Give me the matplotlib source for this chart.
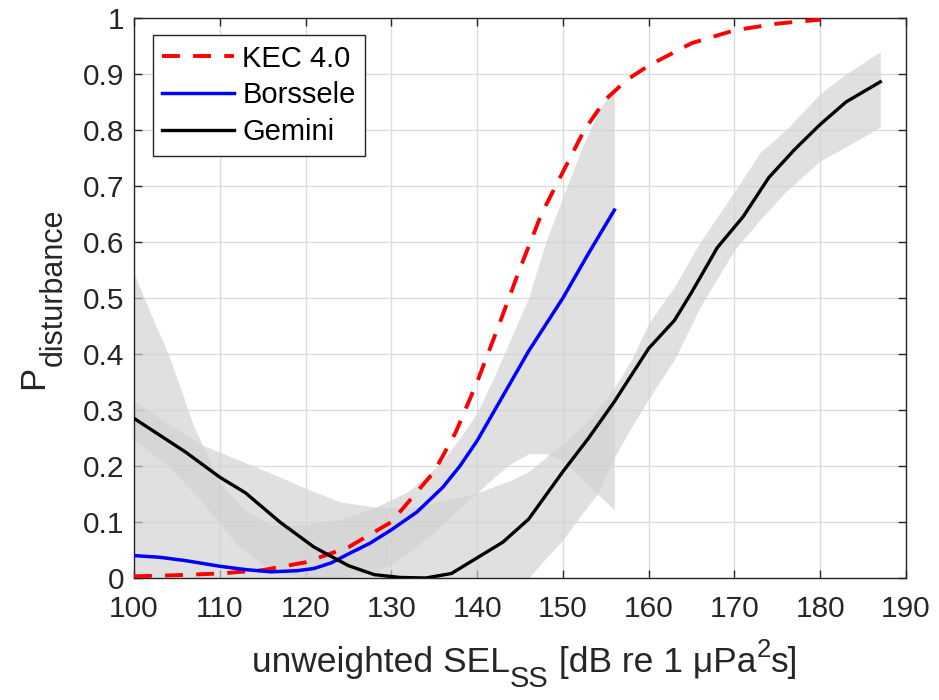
import matplotlib
matplotlib.use("Agg")
import matplotlib.pyplot as plt
from matplotlib.transforms import IdentityTransform

plt.rcParams["font.family"] = ["Liberation Sans", "DejaVu Sans"]

# KEC 4.0 dose-response curve
kec_x = [100, 105, 110, 115, 120, 125, 130, 135, 137.5, 140, 142.5, 145, 147.5,
         150, 152.5, 155, 157.5, 160, 165, 170, 175, 180]
kec_y = [0.003, 0.005, 0.008, 0.014, 0.028, 0.055, 0.10, 0.19, 0.26, 0.35, 0.45,
         0.553, 0.65, 0.725, 0.80, 0.855, 0.89, 0.915, 0.955, 0.978, 0.99, 0.997]

# Borssele curve and its confidence band
bor_x = [100, 103, 106, 110, 113, 116, 119, 121, 123, 125, 127.5, 130, 133, 136,
         138, 140, 143, 146, 150, 153, 156]
bor_y = [0.04, 0.037, 0.031, 0.021, 0.015, 0.011, 0.013, 0.017, 0.027, 0.043,
         0.062, 0.086, 0.118, 0.162, 0.2, 0.245, 0.325, 0.405, 0.5, 0.58, 0.657]
bor_band_x = [100, 102, 104, 107, 110, 113, 116, 120, 124, 128, 130, 132, 134, 136,
              138, 140, 142, 144, 146, 148, 150, 152, 154, 156]
bor_band_hi = [0.544, 0.47, 0.40, 0.27, 0.17, 0.12, 0.095, 0.095, 0.105, 0.125,
               0.14, 0.155, 0.18, 0.21, 0.25, 0.295, 0.36, 0.43, 0.5, 0.6, 0.68,
               0.76, 0.83, 0.877]
bor_band_lo = [0, 0, 0, 0, 0, 0, 0, 0, 0, 0.01, 0.025, 0.045, 0.07, 0.095, 0.125,
               0.152, 0.18, 0.205, 0.222, 0.222, 0.21, 0.18, 0.15, 0.122]

# Gemini curve and its confidence band
gem_x = [100, 103, 106, 110, 113, 117, 121, 125, 128, 131, 134, 137, 140, 143,
         146, 150, 153, 156, 160, 163, 165, 168, 171, 174, 177, 180, 183, 187]
gem_y = [0.285, 0.255, 0.225, 0.18, 0.152, 0.10, 0.055, 0.022, 0.006, 0.001, 0.0,
         0.008, 0.036, 0.064, 0.105, 0.19, 0.25, 0.315, 0.41, 0.46, 0.51, 0.59,
         0.645, 0.715, 0.765, 0.81, 0.85, 0.886]
gem_band_x = [100, 104, 108, 112, 116, 120, 124, 128, 132, 136, 140, 144, 146, 148,
              150, 152, 154, 156, 158, 160, 163, 166, 170, 173, 176, 180, 183, 187]
gem_band_hi = [0.316, 0.275, 0.237, 0.212, 0.187, 0.16, 0.136, 0.127, 0.125, 0.138,
               0.152, 0.175, 0.19, 0.215, 0.24, 0.266, 0.30, 0.34, 0.39, 0.455,
               0.52, 0.60, 0.69, 0.76, 0.80, 0.865, 0.90, 0.94]
gem_band_lo = [0.247, 0.20, 0.135, 0.06, 0.012, 0, 0, 0, 0, 0, 0, 0, 0, 0.035,
               0.068, 0.11, 0.15, 0.215, 0.27, 0.32, 0.39, 0.484, 0.586, 0.64,
               0.69, 0.745, 0.77, 0.805]

x_ticks = list(range(100, 191, 10))
y_ticks = [0, 0.1, 0.2, 0.3, 0.4, 0.5, 0.6, 0.7, 0.8, 0.9, 1]
y_labels = ["0", "0.1", "0.2", "0.3", "0.4", "0.5", "0.6", "0.7", "0.8", "0.9", "1"]

# axis labels as (text, size, baseline shift in px) so sub/superscripts keep MATLAB-like sizes
x_label = [("unweighted SEL", 25.5, 0), ("SS", 21, -15), (" [dB re 1 μPa", 25.5, 0),
           ("2", 18.5, 15), ("s]", 25.5, 0)]
y_label = [("P", 25, 0), ("disturbance", 22, 19)]

txt_col = "#262626"

fig = plt.figure(figsize=(9.39, 7.0), dpi=100)
ax = fig.add_axes([0.1427, 0.1743, 0.8222, 0.8000])

band_col = "#d2d2d2"
ax.fill_between(bor_band_x, bor_band_lo, bor_band_hi, color=band_col, alpha=0.68,
                linewidth=0, zorder=2)
ax.fill_between(gem_band_x, gem_band_lo, gem_band_hi, color=band_col, alpha=0.68,
                linewidth=0, zorder=2)

ax.plot(kec_x, kec_y, color="red", lw=2.8, dashes=(4.6, 3.4), label="KEC 4.0", zorder=4)
ax.plot(bor_x, bor_y, color="blue", lw=2.5, label="Borssele", zorder=4)
ax.plot(gem_x, gem_y, color="black", lw=2.4, label="Gemini", zorder=4)

ax.set_xlim(100, 190)
ax.set_ylim(0, 1)
ax.set_xticks(x_ticks)
ax.set_yticks(y_ticks)
ax.set_yticklabels(y_labels)

ax.grid(True, color="#dcdcdc", lw=1.0, zorder=0)
ax.set_axisbelow(True)
ax.tick_params(direction="in", length=6, width=1, top=True, right=True,
               labelsize=21.5, colors=txt_col)
ax.tick_params(axis="x", pad=12)
ax.tick_params(axis="y", pad=7)
for s in ax.spines.values():
    s.set_color(txt_col)
    s.set_linewidth(1.0)


def put_label(pieces, center, base, vertical=False):
    # pixel positions, measured from the bottom-left of the figure
    r = fig.canvas.get_renderer()
    objs = []
    for s, size, shift in pieces:
        t = fig.text(0, 0, s, fontsize=size, color=txt_col, transform=IdentityTransform(),
                     ha="left", va="baseline", rotation=90 if vertical else 0,
                     rotation_mode="anchor")
        bb = t.get_window_extent(r)
        objs.append((t, shift, bb.height if vertical else bb.width))
    pos = center - sum(o[2] for o in objs) / 2
    for t, shift, w in objs:
        if vertical:
            t.set_position((base + shift, pos))
        else:
            t.set_position((pos, base + shift))
        pos += w


put_label(x_label, 525, 28)
put_label(y_label, 401, 43, vertical=True)

leg = ax.legend(loc="upper left", bbox_to_anchor=(0.0242, 0.9696), borderaxespad=0,
                fontsize=21, handlelength=2.47, handletextpad=0.27, labelspacing=0.3,
                fancybox=False, framealpha=1, edgecolor=txt_col, borderpad=0.33)
leg.get_frame().set_linewidth(1.0)

fig.savefig("out.png", dpi=100)
